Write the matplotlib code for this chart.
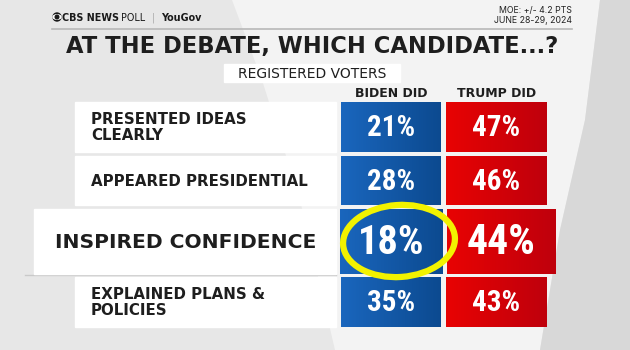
import numpy as np
import matplotlib
matplotlib.use("Agg")
import matplotlib.pyplot as plt
from matplotlib import font_manager
from matplotlib.patches import Rectangle, Ellipse, Polygon, Circle
from matplotlib.colors import to_rgb

# ---- data ----
questions = ["PRESENTED IDEAS\nCLEARLY", "APPEARED PRESIDENTIAL",
             "INSPIRED CONFIDENCE", "EXPLAINED PLANS &\nPOLICIES"]
biden_did = [21, 28, 18, 35]
trump_did = [47, 46, 44, 43]
col_headers = ["BIDEN DID", "TRUMP DID"]
highlight_row = 2
title = "AT THE DEBATE, WHICH CANDIDATE...?"
subtitle = "REGISTERED VOTERS"
moe_lines = ["MOE: +/- 4.2 PTS", "JUNE 28-29, 2024"]


def pick(fams, default="DejaVu Sans"):
    for f in fams:
        try:
            font_manager.findfont(font_manager.FontProperties(family=f),
                                  fallback_to_default=False)
            return f
        except Exception:
            pass
    return default


SANS = pick(["DejaVu Sans"])
NARROW = pick(["Liberation Sans Narrow", "DejaVu Sans Condensed", "Roboto Condensed"],
              "Liberation Sans")
MED = pick(["Inter", "Lato", "DejaVu Sans"])

fig = plt.figure(figsize=(6.3, 3.5), dpi=100)
ax = fig.add_axes([0, 0, 1, 1])
ax.set_xlim(0, 630)
ax.set_ylim(350, 0)
ax.axis("off")

# ---- background ----
fig.patch.set_facecolor("#e7e7e7")
ax.add_patch(Rectangle((0, 0), 630, 350, color="#e7e7e7", zorder=0))
ax.add_patch(Polygon([(232, 0), (600, 0), (585, 120), (560, 230), (540, 350),
                      (335, 350), (300, 200), (262, 80)],
                     closed=True, color="#f3f3f3", lw=0, zorder=0.5))
ax.add_patch(Polygon([(600, 0), (630, 0), (630, 350), (540, 350), (560, 230), (585, 120)],
                     closed=True, color="#d8d8d8", lw=0, zorder=0.5))


def grad_box(x0, x1, y0, y1, c_left, c_right, z=2):
    n = 64
    cl, cr = np.array(to_rgb(c_left)), np.array(to_rgb(c_right))
    t = np.linspace(0, 1, n)[:, None]
    arr = (cl * (1 - t) + cr * t)[None, :, :]
    ax.imshow(arr, extent=[x0, x1, y1, y0], aspect="auto",
              interpolation="bilinear", zorder=z)


# ---- header ----
ax.add_patch(Circle((57, 17), 4.0, color="#1a1a1a", zorder=3))
ax.add_patch(Ellipse((57, 17), 8.0, 4.4, color="white", zorder=3.1))
ax.add_patch(Circle((57, 17), 1.8, color="#1a1a1a", zorder=3.2))
t1 = ax.text(61.5, 21, "CBS NEWS", fontsize=6.9, fontweight="bold", family=SANS,
             color="#1a1a1a", va="baseline", ha="left", zorder=3)
t2 = ax.annotate(" POLL", xy=(1, 0), xycoords=t1, fontsize=6.9, family=SANS,
                 color="#1a1a1a", va="bottom", ha="left", zorder=3)
t3 = ax.annotate("  |  ", xy=(1, 0), xycoords=t2, fontsize=6.9, family=SANS,
                 color="#aaaaaa", va="bottom", ha="left", zorder=3)
ax.annotate("YouGov", xy=(1, 0), xycoords=t3, fontsize=6.9, fontweight="bold",
            family=SANS, color="#1a1a1a", va="bottom", ha="left", zorder=3)

ax.text(572, 10, moe_lines[0], fontsize=6.3, family=MED, color="#222222",
        ha="right", va="center", zorder=3)
ax.text(572, 20.5, moe_lines[1], fontsize=6.3, family=MED, color="#222222",
        ha="right", va="center", zorder=3)
ax.plot([52, 572], [29, 29], color="#b8b8b8", lw=1.2, zorder=3)

ax.text(312, 46, title, fontsize=16.3, fontweight="heavy", family=SANS,
        color="#1e1e1e", ha="center", va="center", zorder=3)

ax.add_patch(Rectangle((224, 64), 176, 18, color="white", zorder=2))
ax.text(312, 73.5, subtitle, fontsize=10, family=SANS, color="#1e1e1e",
        ha="center", va="center", zorder=3)

# ---- table ----
row_y = [(102, 152), (156, 205), (209, 274), (277, 327)]
col_centers = [391, 497]
for cx, h in zip(col_centers, col_headers):
    ax.text(cx, 93.5, h, fontsize=9, fontweight="bold", family=SANS,
            color="#1e1e1e", ha="center", va="center", zorder=3)

for i, (q, b, t) in enumerate(zip(questions, biden_did, trump_did)):
    y0, y1 = row_y[i]
    yc = (y0 + y1) / 2
    hl = (i == highlight_row)
    lx0 = 34 if hl else 75
    ax.add_patch(Rectangle((lx0, y0), 336 - lx0, y1 - y0, color="white", zorder=2))
    if hl:
        ax.plot([25, 336], [y1 + 1.2, y1 + 1.2], color="#c9c9c9", lw=1, zorder=1.5)
    ax.text(55 if hl else 91, yc + 0.5, q, fontsize=14.6 if hl else 10.8,
            fontweight="bold", family=SANS, color="#1e1e1e", ha="left",
            va="center", linespacing=1.15, zorder=3)
    bx0, bx1 = (340, 443) if hl else (341, 441)
    rx0, rx1 = (447, 556) if hl else (446, 547)
    grad_box(bx0, bx1, y0, y1, "#1a66bd", "#0c4a90")
    grad_box(rx0, rx1, y0, y1, "#e80303", "#bf000c")
    fs_b = 29 if hl else 21
    fs_r = 30 if hl else 21
    ax.text((bx0 + bx1) / 2, yc + 1, f"{b}%", fontsize=fs_b, fontweight="bold",
            family=NARROW, color="white", ha="center", va="center", zorder=4)
    ax.text((rx0 + rx1) / 2, yc + 1, f"{t}%", fontsize=fs_r, fontweight="bold",
            family=NARROW, color="white", ha="center", va="center", zorder=4)

# highlight circle around Biden's highlighted value
hy0, hy1 = row_y[highlight_row]
ax.add_patch(Ellipse((399, (hy0 + hy1) / 2 - 0.5), 112, 72, angle=-4, fill=False,
                     ec="#f2f200", lw=4.5, zorder=5))

fig.savefig("out.png", dpi=100, facecolor=fig.get_facecolor())
